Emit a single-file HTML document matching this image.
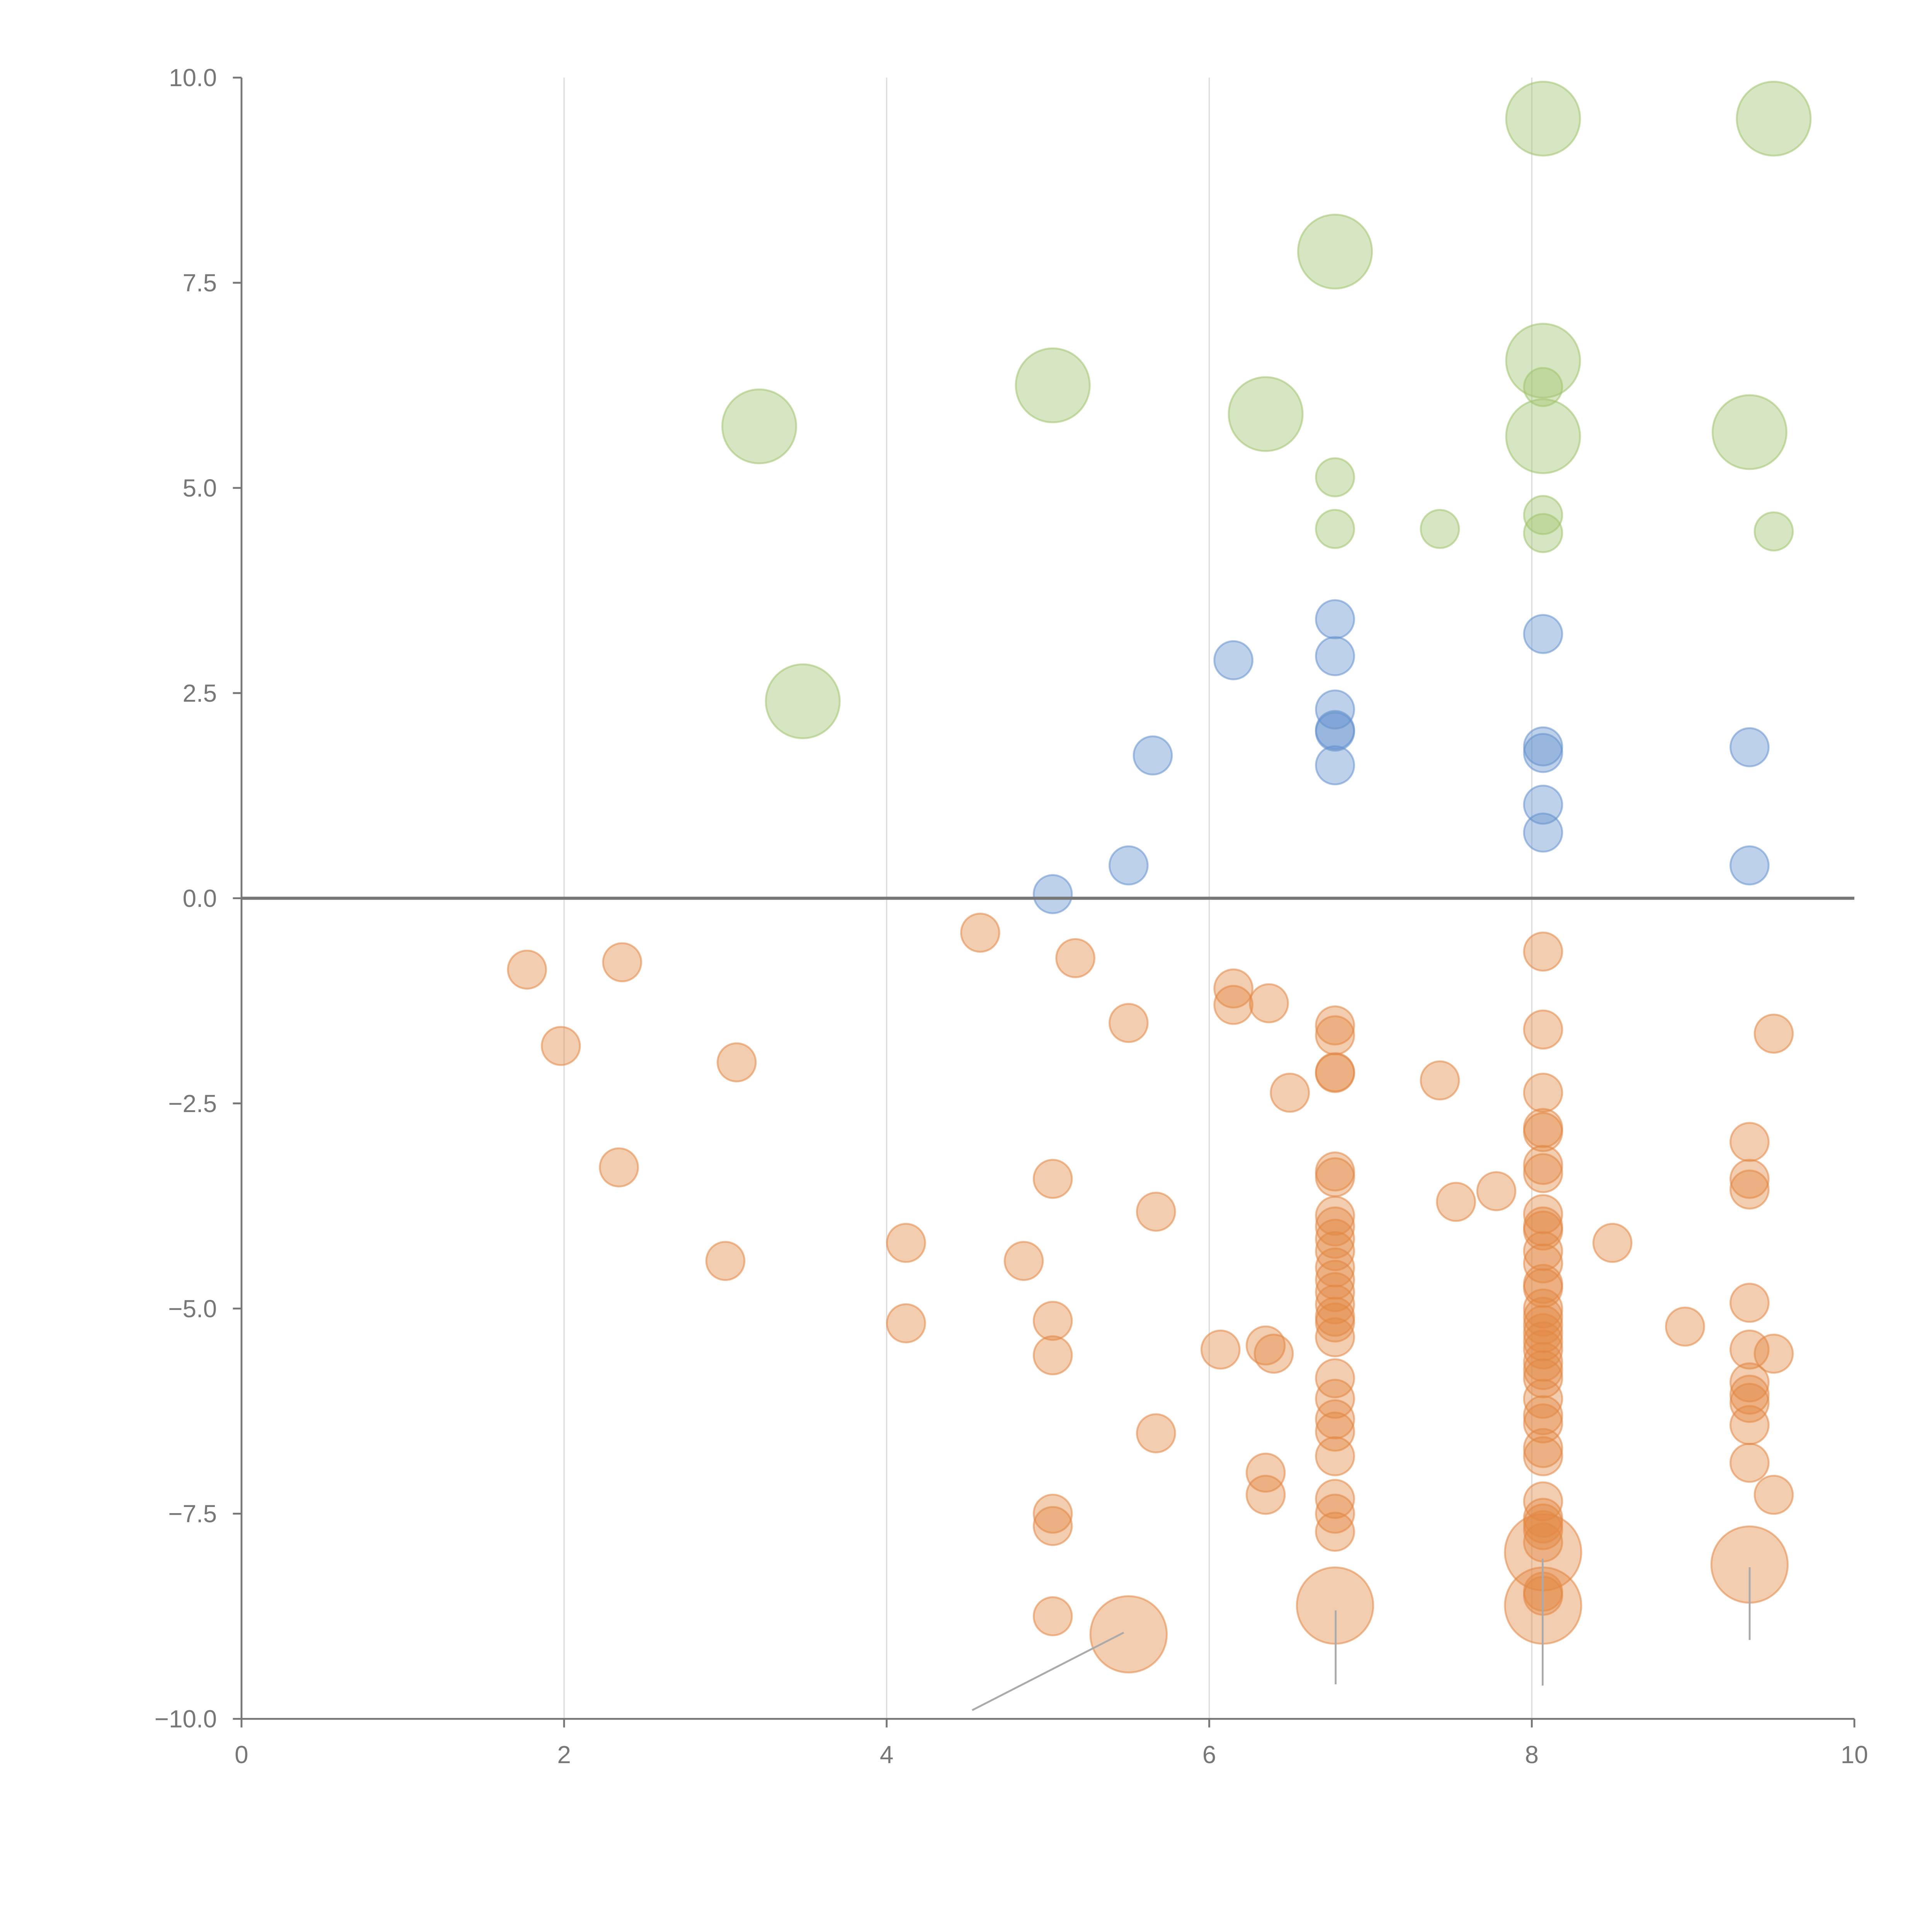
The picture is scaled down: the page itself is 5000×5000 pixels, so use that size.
<!DOCTYPE html>
<html><head><meta charset="utf-8"><style>html,body{margin:0;padding:0;background:#fff}svg{display:block}</style></head>
<body>
<svg id="chart" width="5000" height="5000" viewBox="0 0 1568 1568" xmlns="http://www.w3.org/2000/svg" font-family="Liberation Sans, sans-serif">
<g id="grid"></g>
<g id="marks"></g>
<g id="axes"></g>
</svg>
<script>
const xTicks=[0,2,4,6,8,10];
const yTicks=[-10,-7.5,-5,-2.5,0,2.5,5,7.5,10];
const greenBigX=[3.21,3.48,5.03,6.35,6.78,8.07,9.5,8.07,8.07,9.35];
const greenBigY=[5.75,2.4,6.25,5.9,7.88,9.5,9.5,6.55,5.63,5.68];
const greenX=[6.78,6.78,7.43,8.07,8.07,9.5,8.07];
const greenY=[5.13,4.5,4.5,4.67,4.45,4.47,6.23];
const blueX=[6.15,5.65,5.5,5.03,6.78,6.78,6.78,6.78,6.78,6.78,8.07,8.07,8.07,8.07,8.07,9.35,9.35];
const blueY=[2.9,1.74,0.4,0.05,3.4,2.95,2.3,2.05,2.03,1.62,3.22,1.85,1.77,1.14,0.8,1.84,0.4];
const orangeX=[1.77,2.36,1.98,3.07,2.34,3.0,4.58,5.17,5.5,6.15,6.15,6.37,6.5,5.03,5.67,4.12,4.85,4.12,5.03,5.03,6.07,6.35,6.4,5.67,6.35,6.35,5.03,5.03,5.03,7.43,7.53,7.78,8.5,8.95,9.5,9.35,9.35,9.35,9.35,9.35,9.5,9.35,9.35,9.35,9.35,9.35,9.5];
const orangeY=[-0.87,-0.78,-1.8,-2.0,-3.28,-4.42,-0.42,-0.73,-1.52,-1.1,-1.3,-1.28,-2.37,-3.42,-3.82,-4.2,-4.42,-5.18,-5.15,-5.57,-5.5,-5.45,-5.55,-6.52,-7.0,-7.27,-7.5,-7.65,-8.75,-2.22,-3.7,-3.57,-4.2,-5.22,-1.65,-2.97,-3.42,-3.55,-4.93,-5.5,-5.55,-5.9,-6.05,-6.15,-6.42,-6.88,-7.27];
const col678Y=[-1.55,-1.67,-2.12,-2.13,-3.33,-3.4,-3.87,-4.0,-4.15,-4.3,-4.5,-4.65,-4.8,-4.95,-5.1,-5.17,-5.35,-5.85,-6.1,-6.35,-6.5,-6.8,-7.32,-7.5,-7.72];
const col807Y=[-0.65,-1.6,-2.37,-2.8,-2.85,-3.25,-3.35,-3.85,-4.0,-4.05,-4.3,-4.45,-4.7,-4.75,-5.0,-5.1,-5.2,-5.3,-5.4,-5.5,-5.65,-5.75,-5.85,-6.1,-6.3,-6.4,-6.7,-6.8,-7.35,-7.55,-7.62,-7.7,-7.85,-8.45,-8.5];
const orangeBigX=[5.5,6.78,8.07,8.07,9.35];
const orangeBigY=[-8.97,-8.62,-7.97,-8.62,-8.12];

const NS="http://www.w3.org/2000/svg";
const X0=196,X1=1505,Y0=1395,Y1=63;
const sx=v=>X0+(v-0)/(10-0)*(X1-X0);
const sy=v=>Y0-(v+10)/20*(Y0-Y1);
function mk(tag,parent,attrs){const e=document.createElementNS(NS,tag);for(const k in attrs)e.setAttribute(k,attrs[k]);parent.appendChild(e);return e;}
const grid=document.getElementById('grid'),marks=document.getElementById('marks'),axes=document.getElementById('axes');
xTicks.forEach(t=>{if(t>0&&t<10){const l=mk('line',grid,{x1:sx(t),x2:sx(t),y1:Y1,y2:Y0,stroke:'#dcdcdc','stroke-width':1});

}});
function dots(xs,ys,r,fill,stroke,name){xs.forEach((x,i)=>{const c=mk('circle',marks,{cx:sx(x),cy:sy(ys[i]),r:r,fill:fill,stroke:stroke,'stroke-width':1.5});

});}
const OF='rgba(226,135,67,0.42)',OS='rgba(226,135,67,0.55)';
dots(orangeX,orangeY,15.5,OF,OS,'negative-point');
dots(col678Y.map(()=>6.78),col678Y,15.5,OF,OS,'negative-point');
dots(col807Y.map(()=>8.07),col807Y,15.5,OF,OS,'negative-point');
dots(orangeBigX,orangeBigY,31,OF,OS,'negative-large-point');
dots(blueX,blueY,15.5,'rgba(100,145,205,0.42)','rgba(100,145,205,0.55)','positive-point');
dots(greenX,greenY,15.5,'rgba(160,195,110,0.42)','rgba(160,195,110,0.55)','high-point');
dots(greenBigX,greenBigY,30,'rgba(160,195,110,0.42)','rgba(160,195,110,0.55)','high-large-point');
[[912,1325,789,1388],[1084,1307,1084,1367],[1252,1265,1252,1368],[1420,1272,1420,1331]].forEach(p=>{const l=mk('line',marks,{x1:p[0],y1:p[1],x2:p[2],y2:p[3],stroke:'#aaa','stroke-width':1.5});

});
const ya=mk('line',axes,{x1:X0,x2:X0,y1:Y1,y2:Y0,stroke:'#777','stroke-width':1.5});


const xa=mk('line',axes,{x1:X0,x2:X1,y1:Y0,y2:Y0,stroke:'#777','stroke-width':1.5});


const zl=mk('line',axes,{x1:X0,x2:X1,y1:sy(0),y2:sy(0),stroke:'#777','stroke-width':2.5});


xTicks.forEach(t=>{mk('line',axes,{x1:sx(t),x2:sx(t),y1:Y0,y2:Y0+7,stroke:'#777','stroke-width':1.5});
const tx=mk('text',axes,{x:sx(t),y:Y0+36,'text-anchor':'middle','font-size':20,fill:'#777'});tx.textContent=String(t);

});
yTicks.forEach(t=>{mk('line',axes,{x1:X0-7,x2:X0,y1:sy(t),y2:sy(t),stroke:'#777','stroke-width':1.5});
const tx=mk('text',axes,{x:X0-20,y:sy(t)+7,'text-anchor':'end','font-size':20,fill:'#777'});tx.textContent=(t<0?'\u2212':'')+Math.abs(t).toFixed(1);

});
</script>
</body></html>
